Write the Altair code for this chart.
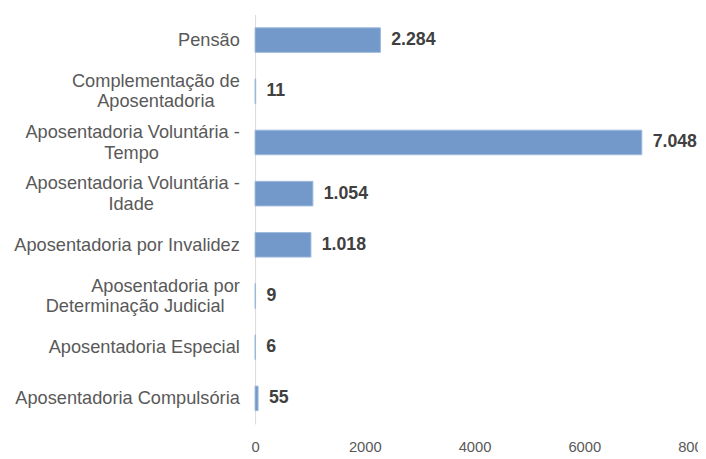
import altair as alt
import pandas as pd

NB = "\u00a0"
ZW = "\u200b"

categories = [
    "Pensão",
    "Complementação de|Aposentadoria",
    "Aposentadoria Voluntária -|Tempo",
    "Aposentadoria Voluntária -|Idade",
    "Aposentadoria por Invalidez",
    "Aposentadoria por|Determinação Judicial",
    "Aposentadoria Especial",
    "Aposentadoria Compulsória",
]
# right-padding (in no-break spaces) of the second line so it sits centred under the first
pad_second_line = [0, 5, 16, 17, 0, 3, 0, 0]
values = [2284, 11, 7048, 1054, 1018, 9, 6, 55]
x_ticks = [0, 2000, 4000, 6000, 8000]

labels = []
for c, p in zip(categories, pad_second_line):
    parts = c.split("|")
    if len(parts) == 2 and p > 0:
        parts[1] = parts[1] + NB * p + ZW
    labels.append("|".join(parts))

df = pd.DataFrame({
    "cat": labels,
    "v": values,
    "txt": [f"{v:,}".replace(",", ".") for v in values],
})

y_enc = alt.Y(
    "cat:N",
    sort=None,
    scale=alt.Scale(paddingInner=0.52, paddingOuter=0.26),
    axis=alt.Axis(
        title=None,
        labelExpr="split(datum.label, '|')",
        labelFont="Liberation Sans",
        labelFontSize=18.5,
        labelColor="#595959",
        labelLineHeight=21,
        labelPadding=16,
        labelOffset={
            "condition": {"test": "indexof(datum.label, '|') >= 0", "value": -10.5},
            "value": 0,
        },
        ticks=False,
        tickSize=0,
        domainColor="#d9d9d9",
        domainWidth=1,
        grid=False,
        labelLimit=400,
    ),
)
x_enc = alt.X(
    "v:Q",
    scale=alt.Scale(domain=[0, 8000], nice=False),
    axis=alt.Axis(
        title=None,
        values=x_ticks,
        format="d",
        labelFont="Liberation Sans",
        labelFontSize=15,
        labelColor="#595959",
        labelPadding=16,
        ticks=False,
        domain=False,
        grid=False,
        labelFlush=False,
    ),
)

bars = alt.Chart(df).mark_bar(
    color="#7299C9", stroke="#9DB9DC", strokeWidth=1
).encode(x=x_enc, y=y_enc)

text = alt.Chart(df).mark_text(
    align="left", baseline="middle", dx=11,
    font="Liberation Sans", fontSize=18, fontWeight="bold", color="#404040",
).encode(x="v:Q", y=alt.Y("cat:N", sort=None), text="txt:N")

chart = alt.layer(bars, text).properties(
    width=446,
    height=416,
    padding={"left": 251, "top": 3, "right": 4, "bottom": 32},
    autosize="none",
).configure_view(stroke=None)

chart.save("out.html", embed_options={"renderer": "svg", "actions": False})
